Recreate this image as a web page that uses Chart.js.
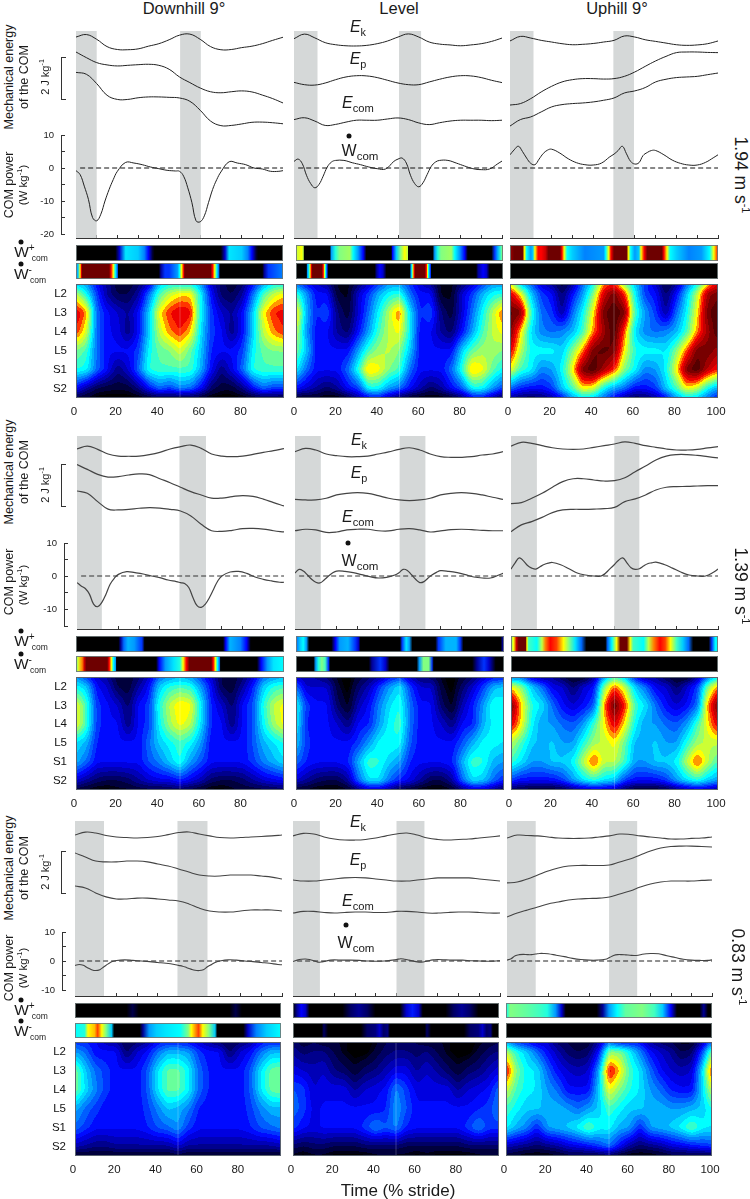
<!DOCTYPE html>
<html><head><meta charset="utf-8">
<script src="https://cdn.jsdelivr.net/npm/chart.js@4"></script>
<style>
html,body{margin:0;padding:0;background:#fff}
#page{position:relative;width:750px;height:1199px;overflow:hidden;font-family:"Liberation Sans",Arial,sans-serif;color:#1a1a1a}
#page canvas{position:absolute}
.t{position:absolute;white-space:nowrap;transform:translate(-50%,-50%);line-height:1}
.dot{position:absolute;width:5px;height:5px;border-radius:50%;background:#111;transform:translate(-50%,-50%)}
sup,sub{line-height:0}
</style></head><body><div id="page"></div>
<script>
// ---------- DATA ----------
const conditions=["Downhill 9°","Level","Uphill 9°"];
const speeds=["1.94 m s","1.39 m s","0.83 m s"];
const segments=["L2","L3","L4","L5","S1","S2"];
const energyX=[0,5,10,15,20,25,30,35,40,45,50,55,60,65,70,75,80,85,90,95,100];
const powerX=[0,2,4,6,8,10,12,14,16,18,20,24,28,32,36,40,44,48,50,52,54,56,58,60,62,64,66,68,70,74,78,82,86,90,94,98,100];
const heatCols=[0,5,10,15,20,25,30,35,40,45,50,55,60,65,70,75,80,85,90,95,100];
const heatRows=[0,.5,1.5,2.5,3.5,4.5,5.5,6];

// mechanical energy (J/kg, arbitrary offset)
const ek_d194=[4.71,4.83,4.6,4.25,4.11,4.1,4.14,4.27,4.39,4.58,4.8,4.85,4.6,4.25,4.1,4.11,4.2,4.27,4.39,4.55,4.7];
const ep_d194=[3.99,3.72,3.48,3.37,3.32,3.35,3.38,3.4,3.35,3.16,2.79,2.52,2.26,2.08,2.03,2.08,2.12,2.07,1.92,1.75,1.54];
const ec_d194=[3.01,2.92,2.47,1.91,1.71,1.71,1.79,1.83,1.83,1.81,1.78,1.62,1.19,.67,.45,.46,.53,.61,.62,.59,.54];
const ek_l194=[4.63,4.85,4.67,4.44,4.34,4.29,4.28,4.31,4.39,4.52,4.71,4.86,4.71,4.47,4.37,4.33,4.29,4.33,4.39,4.5,4.66];
const ep_l194=[2.53,2.42,2.4,2.5,2.66,2.79,2.85,2.84,2.76,2.63,2.5,2.42,2.42,2.55,2.68,2.79,2.85,2.84,2.76,2.63,2.52];
const ec_l194=[.74,.83,.67,.46,.51,.62,.71,.71,.71,.77,.82,.74,.58,.5,.59,.67,.71,.71,.71,.69,.71];
const ek_u194=[4.52,4.74,4.66,4.55,4.47,4.39,4.34,4.36,4.4,4.47,4.55,4.76,4.71,4.58,4.5,4.42,4.34,4.31,4.33,4.39,4.52];
const ep_u194=[1.44,1.51,1.75,2.07,2.34,2.55,2.66,2.71,2.71,2.69,2.71,2.82,3.03,3.3,3.56,3.78,3.96,3.99,3.99,3.97,3.96];
const ec_u194=[.43,.74,.87,1.11,1.35,1.46,1.51,1.54,1.59,1.67,1.78,2.02,2.12,2.28,2.55,2.68,2.76,2.79,2.82,2.9,2.98];
const ek_d139=[4.52,4.66,4.5,4.28,4.18,4.17,4.18,4.25,4.36,4.52,4.63,4.71,4.55,4.28,4.18,4.15,4.18,4.26,4.36,4.44,4.54];
const ep_d139=[3.77,3.54,3.3,3.17,3.19,3.27,3.32,3.29,3.09,2.9,2.68,2.47,2.31,2.16,2.16,2.23,2.28,2.24,2.11,1.94,1.78];
const ec_d139=[2.5,2.39,1.99,1.63,1.59,1.62,1.67,1.7,1.68,1.62,1.54,1.3,.9,.59,.56,.61,.69,.7,.67,.59,.53];
const ek_l139=[4.39,4.55,4.47,4.28,4.2,4.15,4.15,4.18,4.28,4.38,4.5,4.58,4.47,4.28,4.15,4.12,4.12,4.15,4.23,4.28,4.39];
const ep_l139=[2.1,2.07,2.07,2.15,2.31,2.39,2.42,2.39,2.28,2.15,2.07,2.04,2.07,2.15,2.31,2.39,2.42,2.39,2.31,2.2,2.1];
const ec_l139=[.59,.66,.63,.51,.53,.63,.66,.66,.59,.58,.66,.69,.63,.53,.58,.64,.66,.64,.61,.59,.59];
const ek_u139=[4.66,4.84,4.79,4.68,4.58,4.52,4.5,4.52,4.6,4.68,4.76,4.86,4.79,4.68,4.6,4.52,4.47,4.47,4.5,4.57,4.63];
const ep_u139=[1.89,1.94,2.15,2.39,2.68,2.95,3.09,3.09,3.03,2.98,3,3.14,3.43,3.7,3.99,4.18,4.25,4.25,4.21,4.15,4.09];
const ec_u139=[.54,.87,1.03,1.23,1.46,1.59,1.62,1.62,1.63,1.65,1.71,1.99,2.12,2.31,2.55,2.68,2.71,2.72,2.74,2.76,2.76];
const ek_d083=[4.66,4.8,4.76,4.64,4.57,4.54,4.52,4.54,4.59,4.68,4.78,4.81,4.71,4.62,4.54,4.52,4.54,4.57,4.59,4.62,4.66];
const ep_d083=[3.8,3.61,3.41,3.37,3.37,3.41,3.41,3.37,3.27,3.17,3.03,2.88,2.74,2.69,2.69,2.74,2.74,2.74,2.69,2.64,2.55];
const ec_d083=[2.21,2.12,1.88,1.69,1.59,1.59,1.63,1.63,1.59,1.54,1.49,1.35,1.15,1.01,.96,.96,1.01,1.06,1.06,1.06,1.01];
const ek_l083=[4.62,4.74,4.71,4.57,4.47,4.42,4.42,4.45,4.52,4.62,4.71,4.76,4.66,4.52,4.45,4.42,4.45,4.47,4.52,4.57,4.62];
const ep_l083=[2.5,2.45,2.45,2.5,2.55,2.6,2.62,2.6,2.55,2.5,2.45,2.45,2.5,2.55,2.6,2.6,2.6,2.6,2.55,2.5,2.45];
const ec_l083=[.91,.99,.99,.94,.91,.94,.96,.96,.94,.94,.99,.99,.96,.91,.91,.94,.96,.96,.94,.91,.91];
const ek_u083=[4.52,4.66,4.64,4.62,4.57,4.52,4.5,4.5,4.52,4.57,4.62,4.71,4.69,4.62,4.57,4.52,4.47,4.47,4.5,4.52,4.57];
const ep_u083=[2.36,2.4,2.55,2.74,2.93,3.08,3.17,3.2,3.2,3.2,3.22,3.37,3.51,3.7,3.89,4.04,4.11,4.13,4.13,4.11,4.09];
const ec_u083=[.72,.91,1.06,1.2,1.35,1.44,1.54,1.59,1.61,1.63,1.68,1.83,1.97,2.16,2.31,2.4,2.45,2.45,2.45,2.48,2.5];

// COM power (W/kg)
const pw_d194=[-.8,-2,-5.5,-9.5,-15,-16,-14,-10,-6.5,-3.5,-1,1.7,1.5,1,.3,-.2,-.7,-.9,-1,-2.5,-6,-10.5,-16,-16.3,-14.5,-10.5,-6.5,-3.5,-1.2,1.9,1.5,1,0,-.3,-1,-1,-.8];
const pw_l194=[2,2.7,1.3,-2.2,-4.7,-6,-5,-2.5,.3,1.8,2.3,2.3,1.6,1,.3,-.2,-.3,2,2.7,3,1.5,-2.2,-4.7,-5.7,-4.5,-2,.5,1.8,2.3,2.3,1.5,.6,-.2,-.5,-.3,1.3,2.1];
const pw_u194=[4,5.5,6.6,5,3,1.4,1,2.7,4.4,5.4,5.7,4.5,2.8,1.6,1,.9,1.5,3.4,4.2,5.3,6.6,4.3,2,1.2,1.6,3.8,4.7,5.3,5.3,4,2.4,1.4,.9,.9,1.7,3.2,4];
const pw_d139=[-2,-3,-3.8,-5.5,-8.5,-9.3,-8,-5.5,-2.5,-.7,.5,1.3,1,.6,0,-.5,-1.2,-1.7,-2,-2.3,-3.5,-6.5,-9,-9.5,-8.5,-6.5,-4,-1.5,0,1.2,1.4,.8,-.3,-1,-1.5,-1.9,-1.9];
const pw_l139=[.9,2,1.5,.3,-1,-1.9,-2.1,-1.2,-.1,.9,1.5,1.4,1,.4,-.2,-.6,-.4,.3,1,2,1.7,.4,-1,-2,-1.7,-.6,.4,1.1,1.6,1.4,1,.4,-.3,-.6,-.6,.3,.8];
const pw_u139=[2.1,4,5.5,4.6,3.2,2.4,2.1,2.8,3.5,3.9,4.1,3.4,2.2,.9,.3,0,.1,2.3,3.5,4.8,5.5,4,2.5,2,2.2,3,3.7,4,4.2,3.5,2.4,1.2,.3,0,0,1.2,2.1];
const pw_d083=[-1.5,-1.2,-1.5,-2.3,-3,-3.3,-3,-2,-1,-.2,.2,.4,.2,0,-.2,-.5,-.8,-1.2,-1.5,-1.8,-2.3,-2.8,-3.2,-3.3,-3,-2,-1.2,-.4,0,.4,.3,0,-.2,-.5,-.8,-1.2,-1.3];
const pw_l083=[-.2,.3,.6,.7,.5,.1,-.4,-.3,0,.3,.4,.3,.3,.2,0,-.1,0,.3,.5,.8,.6,.3,0,-.3,-.4,-.2,.2,.4,.5,.4,.3,.3,.1,0,-.1,0,.1];
const pw_u083=[.3,.8,1.8,2.2,2.3,2.2,2.2,2.4,2.6,2.6,2.5,2,1.5,.9,.5,.3,.3,.6,1.2,1.9,2.2,2.2,2.1,2,1.9,2,2.3,2.5,2.6,2.5,1.8,1.2,.6,.3,.2,.2,.4];

// stance (% stride) shaded bands
const stance_d194=[[0,10],[50.3,60.3]], stance_l194=[[0,11.3],[50.5,61.1]], stance_u194=[[0,11.3],[49.7,59.6]];
const stance_d139=[[0,12],[49.5,62.3]], stance_l139=[[0,12.4],[50.3,62.7]], stance_u139=[[0,12.5],[49.9,62]];
const stance_d083=[[0,14],[49.5,64]], stance_l083=[[0,13],[50,63.5]], stance_u083=[[0,14],[49.8,63.5]];

// positive / negative power strips: [% stride, level 0-20]
const wp_d194=[[0,0],[19,0],[21,4],[24,9.5],[30,9],[33,7.5],[35,5],[37,1],[38,0],[70,0],[72,4],[74,9.5],[80,9],[83,7.5],[85,5],[87,1],[88,0],[100,0]];
const wn_d194=[[0,7.5],[1,9],[2,14],[2.5,16],[3,19],[16,19],[17,16],[18,14],[19,10],[20,7],[20.5,0],[40,0],[41,3],[43,6],[45,6],[49,8],[50,10],[51,14],[52,16],[52.5,19],[65,19],[66,16],[67,14],[68,10],[69,7],[69.5,0],[90,0],[91,3],[93,6],[100,7.5]];
const wp_l194=[[0,13],[2.7,14],[3.5,13],[4,0],[16.4,0],[17,8],[19,10.5],[21,12],[26,12.5],[27.6,10],[30,8],[32.5,5],[34,0],[46,0],[46.6,5],[48.5,9],[50.5,12],[52.5,14],[54,13],[54.3,0],[66,0],[67,8],[68.5,10.5],[70,12],[75,12.5],[76.7,10],[79,8],[81.5,5],[83,0],[94.4,0],[96,6],[97.5,8.5],[99,11],[100,13]];
const wn_l194=[[0,0],[5,0],[5.5,8],[6.3,10],[6.8,14],[7.3,16],[8,19],[12.4,19],[13.2,16],[13.7,14],[14.3,10],[15,6],[15.6,0],[38,0],[39,3],[40.5,5],[42,4],[43.7,0],[55,0],[55.5,8],[56,10],[56.5,14],[57,16],[57.7,19],[62.2,19],[63,16],[63.5,14],[64,10],[65,6],[65.4,0],[87,0],[88,3],[90.4,5],[92,4],[93.6,0],[100,0]];
const wp_u194=[[0,18],[2,19],[6,19],[7,14],[8,10],[10,8],[11,9],[12,14],[13.5,16],[15,16],[17,17],[18.5,19],[24,19],[25,16],[26,14],[27.5,10],[30,9],[36,7.5],[45,8],[46,10],[47.5,14],[48.5,16],[50,19],[56,19],[57,14],[58,10],[60,8],[62,9],[63,14],[64.5,16],[66,19],[73,19],[74,16],[75.5,14],[77,10],[80,9],[86,7.5],[92,8],[96,10],[98,14],[100,16]];
const wn_u194=[[0,0],[100,0]];
const wp_d139=[[0,0],[20.4,0],[21.5,3],[23,7],[25,8.5],[28,8],[31.7,6],[33,0],[70.7,0],[72,5],[74,8.5],[79,7.5],[82,5],[84,0],[100,0]];
const wn_d139=[[0,11],[1,13.5],[3,15],[4,17],[5,19],[15,19],[16,16],[17,14],[18,10],[19,8],[19.5,0],[38.5,0],[40,5],[43,8],[47,9.5],[50,10.5],[51.5,14],[53,16],[54.5,19],[65,19],[66,16],[67,14],[68,10],[69,7],[69.5,0],[87,0],[89,5],[92,8],[95,9.5],[100,10]];
const wp_l139=[[0,7],[2,9],[3.5,10],[5,8],[6.3,0],[17,0],[19,5],[21,8],[25,8.5],[28.5,6],[30,4],[31,0],[50,0],[51,6],[53,9.5],[54.5,8],[56,0],[67,0],[68.5,6],[72,8.5],[77,8.5],[79,6],[80.5,0],[98.4,0],[100,5]];
const wn_l139=[[0,0],[8.4,0],[9.5,8],[10.8,10.5],[12.4,12],[14,11],[15.6,6],[16.4,0],[35,0],[36.5,3],[40.5,6],[43,4],[45,0],[58,0],[59.3,8],[61.3,12],[63.8,12],[65.4,6],[66.2,0],[84.7,0],[87,3],[90.4,6],[92.8,4],[96,0],[100,0]];
const wp_u139=[[0,12],[1.3,14],[2.6,17],[3.7,19],[7,19],[7.7,14],[8.5,11],[12.5,10],[15,13],[16.6,15],[19,16],[22,15.5],[25.4,14],[28,12],[31,9.5],[34,7],[36.4,0],[45.6,0],[46.7,7],[48.8,10],[51,14],[52.8,19],[56,19],[57.6,14],[59,11],[64,10],[66.5,13],[69,15],[72,16],[74.5,15.5],[77,14],[80,11],[83,9],[85.8,7],[88,0],[95.5,0],[97,6],[98.7,10],[100,10]];
const wn_u139=[[0,0],[100,0]];
const wp_d083=[[0,0],[25,0],[28,1.5],[31,0],[75,0],[78,1.5],[81,0],[100,0]];
const wn_d083=[[0,10],[4.7,10.5],[6.3,14],[9.5,14.5],[11,15.5],[13,14],[15,12],[17.7,9],[19,0],[31.4,0],[33,3],[36,8],[39.5,9],[44,9.5],[51,10],[55,12],[56.5,14],[60,15.5],[62,14],[65,12],[68,9],[69,0],[81.7,0],[84,4],[88,7.5],[93,9],[100,10]];
const wp_l083=[[0,0],[2,3],[4,5],[6,4],[8,0],[24,0],[28,2],[32,3],[36,2],[40,0],[52,0],[55,4],[58,5.5],[61,4],[63,0],[74,0],[78,2],[82,3],[86,2],[90,0],[100,0]];
const wn_l083=[[0,0],[14,0],[15,2],[17,0],[33,0],[36,2],[40,2.5],[42,4],[44,2],[46,2.5],[47,0],[64,0],[65,2],[67,0],[83,0],[86,2],[90,2.5],[92,4],[94,2],[96,2.5],[97,0],[100,0]];
const wp_u083=[[0,10],[2,12],[10,11.5],[16,11],[20,10.5],[24,8],[27,4],[29,0],[44,0],[47,3],[50,8],[54,10],[58,11.5],[66,12],[72,11],[76,9],[80,5],[83,0],[94,0],[96,3],[98,0],[100,0]];
const wn_u083=[[0,0],[100,0]];

// muscle activation maps: rows top->bottom of heatRows, columns heatCols, level 0-20
const heat_d194=[
[9,8,5,3,1,1,2,4,9,10,10,10,8,4,2,1,2,5,8,10,10],
[13,10,6,3,1.5,1.5,3,7,11,13,14,14,10,5,2,1.5,3,7,11,13,14],
[17,15,7,5,4,3,5,9,14,16,17,16.5,10,6,4,3,5,9,14,16,16.5],
[16,13.5,7,5,4.5,2.5,5,9,13,15,16,14.5,9.5,6,5,2.5,5,9,13,15,16],
[12,11,7,5,5,5,6,10,11.5,12,13.5,11.5,9,5.5,5,5,6,10,11.5,12,12],
[10.5,10,7,5,2.5,4,7,10.5,11,11,11,11,8.5,5,2.5,4.5,7,10.5,11,11,11],
[5,3,1.5,1,1,1,2.5,5,7,6,7.5,7,5,2,1,1,2.5,5,7,6,6],
[1,.5,0,0,0,0,0,.5,1,1,1,1,.5,0,0,0,0,.5,1,1,1]];
const heat_l194=[
[7,5,4,3,.5,.5,2,4,6,8,8,6,4,3,.5,.5,2,4,6,8,8],
[11,8,5,5,1,.5,4,6,8.5,10,10.5,7,5,5,.5,.5,4,6,8.5,10,10.5],
[15,8.5,5.5,6.5,2.5,1,4,7,10,13,15.5,9.5,5.5,6.5,2.5,1,4,7,10,13,15.5],
[13.5,8,5,5,3,2,5,8,11,13,14,10,5,5,3,2,5,8,11,13,14],
[12,9,5,5,5,5,8,11,12.5,13,12,9,5,5,5,5,9,11.5,12.5,12.5,12],
[10,7,5,5,5,7,10.5,15,14,12,11,7,5,5,5,7,10.5,15,14,11.5,10],
[5,4,3,2,3,5,6,10,10,8,7,5,3.5,2,3,5,6.5,10,10,8,6],
[.5,.5,.5,0,0,1,3,4.5,5,3,1.5,.5,0,0,0,.5,2,4.5,5,3,1]];
const heat_u194=[
[14,9,7,4,3,1,3,7,10,15,16,12,9,6,4,1,3,7,10,14,17],
[17,14,9,6,5,2,5,8,12,17,19,16,10,6,5,2,5,9,13,18,19],
[19.5,19,11,7,6,3,7,10,14,19,20,19,11,8,6,3,7,10,14,19,20],
[19,14.5,9.5,7.5,7,7.5,8.5,11,15,18,20,15.5,9.5,7.5,7,7.5,8.5,11,15,18,20],
[17,13,10,10,10,9,12,15,19,19.5,19,14,10.5,10,10,9.5,12,15.5,19,19,18],
[14,11,10,7.5,8,10,14,19,20,18,16,12,10,7.5,8,10,14,19,20,17.5,16],
[7,5.5,5,5,6,9,11,14,13.5,10,8,7,5,5,6,9,11,14,13,10,8],
[3,2,1.5,2,3,5,8,9.5,9,7,5,3,1.5,2,3,5,8,9.5,9,7,5]];
const heat_d139=[
[8,6,4,3,1,1,2,4,7,8,8.5,8,6,4,1.5,1,2,4,7,8,8.5],
[10,9,5,4,1.5,1,3,5,9,10.5,11,10.5,8,5,1.5,1,3,5.5,9,10.5,11],
[14,11,6,5,4,2,5,6,10.5,13,14.5,14,10,5.5,4,2,5,6.5,10.5,13,14],
[14,11,6,5,5,2.5,5,6,10,12.5,14,13,9.5,5.5,5,2.5,5,6.5,10,12.5,14],
[9.5,8.5,5.5,5,5,5,5,7,9,10,11,10,8,5,5,5,5,6.5,8.5,9.5,10.5],
[8.5,7,5,5,5,5,5,6.5,7.5,9,10.5,8,6.5,5,5,5,5,6,7.5,8.5,9.5],
[4,3,2,1.5,1.5,2,3,4,4.5,4.5,5.5,4.5,3.5,2,1.5,1.5,2,3,4,4.5,5],
[1,.5,0,0,.5,.5,1,1,1,1.5,1.5,1,.5,0,0,.5,1,1,1,1.5,1.5]];
const heat_l139=[
[4,3,3,2,.5,0,1,2,3,5,6,3.5,2,2,.5,0,1,2,4,5,5],
[7,4,4,4,1,0,2,3.5,6,8,9.5,6,4,4,1,0,2,4,6,8.5,9],
[10.5,6,5,5,2,.5,3.5,5,7.5,9.5,10.5,7,5,5,2,.5,3.5,5.5,8,10.5,10],
[10,5.5,5,5,4,2.5,5,5.5,8,10,11,7,5,5,4,2.5,5,5.5,8.5,10,10.5],
[9,6,5,5,5,5,6,8,10,10.5,10,6.5,5,5,5,5,6.5,8.5,10,10,9.5],
[7,5.5,5,5,5,5.5,8.5,11,10.5,9,8,5.5,5,5,5,5.5,8.5,11,10.5,8.5,8],
[4,3,2,1.5,1.5,3,7,9.5,9.5,7,5.5,4.5,3,1.5,1.5,3,7,9.5,9,7,5.5],
[.5,.5,0,0,0,.5,2,3.5,3.5,2.5,1,.5,0,0,0,.5,2,3.5,3.5,2.5,1]];
const heat_u139=[
[7,7,4,3,3,1.5,.5,.5,3,8,11,9,5,3,3,1.5,.5,.5,3,7,10],
[14,12,9,7,4.5,4,2,4,5,12,15.5,13,9,7,4.5,4,2,4,6,12,15],
[19,14.5,10.5,9.5,7,5,4,5,6.5,15,19.5,16,11,9.5,7,5,4,5,7,15,19],
[17,14,10,8,8,7,6.5,8,11,14,17,14,10,8,8,7,6.5,8,11,14,17],
[13,11,9,8.5,9,8,8,10.5,12.5,13,14,11.5,8.5,8.5,9,8,8,10.5,12.5,13,13],
[11,9.5,8,8,9,9,10,13,16,13,13,11,8,8,9,9,10,13,16,13,11],
[6,5,5,5,5,6,8,9.5,10.5,9.5,9,6,5,5,5,6,8,9.5,10.5,9,8],
[1.5,1,.5,.5,.5,1,2,3,3.5,3.5,3,1.5,.5,.5,.5,1,2,3,3.5,3.5,2.5]];
const heat_d083=[
[6,5.5,5,3.5,3,1.5,2,3,5,5.5,5.5,5,4,3,2,1.5,2,3,5,5.5,5.5],
[8,7,5,5,5,2,4,5,7,8.5,8.5,8,6,5,5,2,4,5,7,8.5,8.5],
[12,9,7,6,5,5,5,6.5,9.5,11.5,11.5,10,7,5.5,5,5,5,6.5,9.5,11.5,12],
[12,9.5,7.5,6,5,5,5,6.5,9.5,11.5,11.5,10,7,5.5,5,5,5,6.5,9.5,11.5,12],
[8.5,7,6,5,5,5,5,6,7.5,9,8.5,7.5,5.5,5,5,5,5,6,7.5,8.5,8.5],
[7,6,5,5,5,5,5,5.5,6.5,7,8,6,5,5,5,5,5,5.5,6.5,7,7.5],
[3.5,3,2.5,2.5,3,3,3,3,3,3,4,3,3,3,3,3,3,3,3,3,3.5],
[.5,.5,.5,.5,.5,.5,.5,.5,.5,.5,1,.5,.5,.5,.5,.5,.5,.5,.5,.5,.5]];
const heat_l083=[
[2,1,1.5,1,1,.5,0,0,.5,1.5,2,1.5,1.5,1,1,.5,0,0,.5,1,1.5],
[3,2,2.5,2.5,1.5,.5,0,0,1,2,2.5,2.5,2,2.5,1.5,.5,0,0,1,2,2.5],
[4.5,4,3.5,4,2.5,2,1,2,2.5,3.5,4.5,4.5,3,4,3,2,1,2,2.5,3.5,4.5],
[6.5,6,4,4.5,4.5,4.5,3,4,4.5,5,7.5,6,4.5,4.5,4.5,4.5,3,4,4.5,5,7],
[7,6,4.5,5,5,5,5,5,5,5.5,8,6.5,5,5,5,5,5,5,5.5,6,7.5],
[6,5,4.5,5,5,5,5,6,7.5,6.5,7.5,5.5,5,5,5,5,5,6,7.5,6,6],
[2,1.5,2,2,1.5,1.5,1.5,2,2,2,2,1.5,1.5,1.5,1.5,1.5,1.5,2,2,2,2],
[.5,0,.5,.5,0,0,0,0,.5,.5,.5,.5,0,.5,0,0,0,0,.5,.5,.5]];
const heat_u083=[
[8,6,5,4,4,2,1.5,1,1,3,7,5,5,5,3,2,1.5,.5,.5,3,7],
[13,10.5,9,7,5,3.5,2,1.5,2,5,12,12,10,7.5,5,4,3,1.5,2,6,12],
[17,12,10,9.5,7,5,4,3.5,4,8,17,14.5,11,9.5,7,5,4,3.5,4,9,16.5],
[13.5,11,10,9.5,8,7,5,5,5,9,14,12,10.5,9.5,8,7,5.5,5,5,9,13.5],
[11,10,9,9,8.5,8.5,8,7,8,9,11,10,9,9,8.5,8.5,8,8,8.5,9,10.5],
[10,8.5,7.5,5.5,8,8.5,9,10,11.5,10,10,8.5,8,5.5,8,8.5,9,10,11.5,10,9.5],
[3.5,3,2.5,2,2.5,3,4,4.5,5,6,7,5,3,2,2.5,3,4,4.5,5,5.5,6],
[1,.5,0,0,0,.5,1,1,1,1,1.5,.5,0,0,0,.5,1,1,1,1,1]];

// ---------- LAYOUT ----------
const energyTables=[[[ek_d194,ep_d194,ec_d194],[ek_l194,ep_l194,ec_l194],[ek_u194,ep_u194,ec_u194]],
 [[ek_d139,ep_d139,ec_d139],[ek_l139,ep_l139,ec_l139],[ek_u139,ep_u139,ec_u139]],
 [[ek_d083,ep_d083,ec_d083],[ek_l083,ep_l083,ec_l083],[ek_u083,ep_u083,ec_u083]]];
const powerTables=[[pw_d194,pw_l194,pw_u194],[pw_d139,pw_l139,pw_u139],[pw_d083,pw_l083,pw_u083]];
const stanceTables=[[stance_d194,stance_l194,stance_u194],[stance_d139,stance_l139,stance_u139],[stance_d083,stance_l083,stance_u083]];
const plusTables=[[wp_d194,wp_l194,wp_u194],[wp_d139,wp_l139,wp_u139],[wp_d083,wp_l083,wp_u083]];
const minusTables=[[wn_d194,wn_l194,wn_u194],[wn_d139,wn_l139,wn_u139],[wn_d083,wn_l083,wn_u083]];
const heatTables=[[heat_d194,heat_l194,heat_u194],[heat_d139,heat_l139,heat_u139],[heat_d083,heat_l083,heat_u083]];
const geom=[
 {eTop:31,pTop:135,pBot:238,pxPerW:3.3,axisX:61,axisBot:234,axisMin:-20,barTop:57,barBot:99,
  line:[[76,283],[294,502],[510,718]],strip:[[76,283],[296,503],[510,718]],heat:[[76,284],[296,503],[510,718]],
  s1:[245,261],s2:[263,279],h:[284,398],color:'#222',lw:1,dashCol:'#111',
  lab:{me:77,j:77,cp:185,cpw:185,ek:[358,27],ep:[358,59],ec:[358,103],w:[360,151],dot:[349,136],wp:252,wn:274,sp:[740,175]}},
 {eTop:436,pTop:543,pBot:629,pxPerW:3.3,axisX:64,axisBot:626,axisMin:-15,barTop:464,barBot:506,
  line:[[77,284],[295,503],[511,718]],strip:[[76,284],[296,504],[511,718]],heat:[[76,284],[296,504],[511,718]],
  s1:[636,652],s2:[656,672],h:[677,790],color:'#444',lw:1.2,dashCol:'#333',
  lab:{me:472,j:485,cp:582,cpw:585,ek:[359,440],ep:[359,473],ec:[358,517],w:[360,561],dot:[348,543],wp:641,wn:664,sp:[740,586]}},
 {eTop:821,pTop:932,pBot:996,pxPerW:2.9,axisX:62,axisBot:990,axisMin:-10,barTop:851,barBot:893,
  line:[[75,282],[293,500],[507,712]],strip:[[75,281],[293,499],[506,712]],heat:[[75,281],[293,499],[506,712]],
  s1:[1003,1018],s2:[1023,1038],h:[1042,1156],color:'#444',lw:1.1,dashCol:'#222',
  lab:{me:868,j:872,cp:968,cpw:968,ek:[358,822],ep:[358,860],ec:[358,901],w:[356,943],dot:[346,925],wp:1010,wn:1031,sp:[737,967]}}
];
const J_PX=20.8;

// ---------- COLOUR ----------
const cmap=[[0,0,0,0],[2,0,0,100],[5,0,0,255],[7.5,0,130,255],[10,0,255,255],[12,130,255,130],[14,255,255,0],[16,255,0,0],[19,110,0,0],[20,70,0,0]];
function rgb(v){
  v=Math.max(0,Math.min(20,v));
  for(let i=1;i<cmap.length;i++){ if(v<=cmap[i][0]){const a=cmap[i-1],b=cmap[i],t=(v-a[0])/(b[0]-a[0]);
    return [a[1]+(b[1]-a[1])*t,a[2]+(b[2]-a[2])*t,a[3]+(b[3]-a[3])*t];}}
  return cmap[cmap.length-1].slice(1);
}
// ---------- PLUGINS ----------
const shadePlugin={id:'shade',beforeDatasetsDraw(ch,a,o){
  if(!o.ranges)return; const {ctx,chartArea:ca,scales:{x}}=ch; ctx.save(); ctx.fillStyle='#d5d8d8';
  o.ranges.forEach(r=>{const l=x.getPixelForValue(r[0]),rr=x.getPixelForValue(r[1]);ctx.fillRect(l,ca.top,rr-l,ca.bottom-ca.top);}); ctx.restore();}};
const stripPlugin={id:'strip',beforeDatasetsDraw(ch,a,o){
  if(!o.on)return; const {ctx,chartArea:ca,scales:{x}}=ch; const pts=ch.data.datasets[0].data;
  const x0=x.getPixelForValue(0),x1=x.getPixelForValue(100); const g=ctx.createLinearGradient(x0,0,x1,0);
  pts.forEach(p=>{const c=rgb(p.y);g.addColorStop((x.getPixelForValue(p.x)-x0)/(x1-x0),`rgb(${c[0]|0},${c[1]|0},${c[2]|0})`);});
  ctx.save();ctx.fillStyle=g;ctx.fillRect(ca.left,ca.top,ca.right-ca.left,ca.bottom-ca.top);
  ctx.strokeStyle='rgba(110,120,120,.9)';ctx.lineWidth=1;ctx.strokeRect(ca.left+.5,ca.top+.5,ca.right-ca.left-1,ca.bottom-ca.top-1);ctx.restore();}};
function smooth(f,W,H,rx,ry){
  const pass=(src,n,m,step,cross,r)=>{const out=new Float32Array(src.length);
    for(let j=0;j<m;j++)for(let i=0;i<n;i++){let s=0,c=0;for(let d=-r;d<=r;d++){const k=Math.max(0,Math.min(n-1,i+d));s+=src[j*cross+k*step];c++;}out[j*cross+i*step]=s/c;}return out;};
  for(let t=0;t<2;t++){f=pass(f,W,H,1,W,rx);f=pass(f,H,W,W,1,ry);}
  return f;
}
const heatPlugin={id:'heat',beforeDatasetsDraw(ch,a,o){
  if(!o.grid)return; const {ctx,chartArea:ca,scales:{x,y}}=ch; const W=Math.round(ca.right-ca.left),H=Math.round(ca.bottom-ca.top);
  const off=document.createElement('canvas');off.width=W;off.height=H;const oc=off.getContext('2d');const im=oc.createImageData(W,H);
  const G=o.grid; let f=new Float32Array(W*H);
  const seg=(arr,v)=>{let i=0;while(i<arr.length-2&&v>arr[i+1])i++;return [i,Math.max(0,Math.min(1,(v-arr[i])/(arr[i+1]-arr[i])))];};
  for(let py=0;py<H;py++){const [r,tr]=seg(heatRows,y.getValueForPixel(ca.top+py+.5));
    for(let px=0;px<W;px++){const [c,tc]=seg(heatCols,x.getValueForPixel(ca.left+px+.5));
      f[py*W+px]=(G[r][c]*(1-tc)+G[r][c+1]*tc)*(1-tr)+(G[r+1][c]*(1-tc)+G[r+1][c+1]*tc)*tr;}}
  f=smooth(f,W,H,2,2);
  for(let k=0;k<W*H;k++){const v=f[k];const q=(Math.floor(v/.8)+.5)*.8;const col=rgb(v<.4?0:q);
    im.data[k*4]=col[0];im.data[k*4+1]=col[1];im.data[k*4+2]=col[2];im.data[k*4+3]=255;}
  oc.putImageData(im,0,0);
  ctx.save();ctx.fillStyle='#000';ctx.fillRect(ca.left,ca.top,W,H);
  ctx.beginPath();ctx.rect(ca.left,ca.top,W,H);ctx.clip();ctx.filter='blur(0.6px)';ctx.drawImage(off,ca.left,ca.top);ctx.filter='none';
  const m=x.getPixelForValue(50);ctx.strokeStyle='rgba(255,255,255,.22)';ctx.lineWidth=1;ctx.beginPath();ctx.moveTo(m,ca.top);ctx.lineTo(m,ca.bottom);ctx.stroke();
  ctx.restore();
  ctx.save();ctx.strokeStyle='#5a6270';ctx.lineWidth=1;ctx.strokeRect(ca.left+.5,ca.top+.5,W-1,H-1);ctx.restore();}};
Chart.register(shadePlugin,stripPlugin,heatPlugin);
Chart.defaults.font.family='"Liberation Sans",Arial,sans-serif';
Chart.defaults.color='#1a1a1a';
Chart.defaults.animation=false;

// ---------- HELPERS ----------
const page=document.getElementById('page');
function mount(left,top,w,h,cfg){
  const c=document.createElement('canvas');c.style.left=left+'px';c.style.top=top+'px';c.style.width=w+'px';c.style.height=h+'px';c.width=w;c.height=h;page.appendChild(c);
  cfg.options=Object.assign({responsive:false,maintainAspectRatio:false,animation:false,events:[]},cfg.options);
  return new Chart(c,cfg);
}
function text(x,y,html,size,rot,extra){
  const d=document.createElement('div');d.className='t';d.innerHTML=html;d.style.left=x+'px';d.style.top=y+'px';d.style.fontSize=size+'px';
  if(rot)d.style.transform=`translate(-50%,-50%) rotate(${rot}deg)`; if(extra)d.style.cssText+=extra; page.appendChild(d);return d;}
function dot(x,y){const d=document.createElement('div');d.className='dot';d.style.left=x+'px';d.style.top=y+'px';page.appendChild(d);}
const fixW=w=>s=>{s.width=w;s.paddingTop=s.paddingBottom=s.paddingLeft=s.paddingRight=0;};
const fixH=h=>s=>{s.height=h;s.paddingTop=s.paddingBottom=s.paddingLeft=s.paddingRight=0;};
const noPlugins={legend:{display:false},tooltip:{enabled:false}};

function curve(xs,ys,color,lw){return {data:xs.map((x,i)=>({x,y:ys[i]})),borderColor:color,borderWidth:lw,pointRadius:0,tension:.4,fill:false};}

function energyChart(g,r,c){
  const [x0,x1]=g.line[c]; const h=g.pTop-g.eTop;
  mount(x0,g.eTop,x1-x0+1,h,{type:'line',data:{datasets:energyTables[r][c].map(a=>curve(energyX,a,g.color,g.lw))},
   options:{layout:{padding:{right:1}},plugins:{...noPlugins,shade:{ranges:stanceTables[r][c]}},
    scales:{x:{type:'linear',min:0,max:100,display:false},y:{min:0,max:h/J_PX,display:false}}}});
}
function powerChart(g,r,c){
  const [x0,x1]=g.line[c]; const h=g.pBot-g.pTop;
  const dashed=Object.assign(curve([2,100],[0,0],g.dashCol,1),{borderDash:[5,3],tension:0});
  mount(x0,g.pTop,x1-x0+1,h+2,{type:'line',data:{datasets:[curve(powerX,powerTables[r][c],g.color,g.lw),dashed]},
   options:{layout:{padding:{right:1,bottom:2}},plugins:{...noPlugins,shade:{ranges:stanceTables[r][c]}},
    scales:{x:{type:'linear',min:0,max:100,afterFit:fixH(0),ticks:{display:false,stepSize:10},border:{color:'#333'},grid:{drawOnChartArea:false,tickLength:-3,color:'#333'}},
     y:{min:10-h/g.pxPerW,max:10,display:false}}}});
}
function axisChart(x,top,bot,min,max,step,labelled,tl){
  mount(x-34,top-8,34+8,bot-top+16,{type:'scatter',data:{datasets:[]},options:{layout:{padding:{right:7,top:8,bottom:8}},plugins:noPlugins,
   scales:{x:{type:'linear',min:0,max:1,display:false},
    y:{min,max,afterFit:fixW(34),border:{color:'#333'},grid:{drawOnChartArea:false,tickLength:-tl,color:'#333'},
     ticks:{stepSize:step,padding:11+tl-4,font:{size:9.5},display:labelled,callback:v=>v%10===0?String(v):''}}}}});
}
function stripChart(box,yy,pts){
  const [x0,x1]=box;
  mount(x0,yy[0],x1-x0,yy[1]-yy[0],{type:'scatter',data:{datasets:[{data:pts.map(p=>({x:p[0],y:p[1]})),showLine:false,pointRadius:0}]},
   options:{plugins:{...noPlugins,strip:{on:true}},scales:{x:{type:'linear',min:0,max:100,display:false},y:{min:0,max:20,display:false}}}});
}
function heatChart(g,c,grid){
  const [x0,x1]=g.heat[c]; const pad=40;const h=g.h[1]-g.h[0];
  const pts=[];heatRows.forEach((ry,i)=>heatCols.forEach((cx,j)=>pts.push({x:cx,y:ry,v:grid[i][j]})));
  const tickX={color:ctx=>(ctx.tick&&(ctx.tick.value===0||ctx.tick.value===100))?'rgba(0,0,0,0)':'#223',tickLength:-3,drawOnChartArea:false};
  const tickY={color:ctx=>(ctx.tick&&(ctx.tick.value===0||ctx.tick.value===6))?'rgba(0,0,0,0)':'#223',tickLength:-3,drawOnChartArea:false};
  mount(x0-pad,g.h[0]-3,x1-x0+pad+18,h+3+24,{type:'scatter',data:{datasets:[{data:pts,showLine:false,pointRadius:0}]},
   options:{layout:{padding:{right:18,top:3}},plugins:{...noPlugins,heat:{grid}},
    scales:{
     x:{type:'linear',min:0,max:100,afterFit:fixH(24),border:{display:false},grid:tickX,
        ticks:{stepSize:20,padding:10,labelOffset:-2,maxRotation:0,font:{size:11.5},callback:v=>(v===100&&c<2)?'':String(v)}},
     x2:{type:'linear',axis:'x',position:'top',min:0,max:100,afterFit:fixH(0),border:{display:false},grid:tickX,ticks:{stepSize:20,display:false}},
     y:{min:0,max:6,reverse:true,afterFit:fixW(pad),border:{display:false},grid:tickY,
        ticks:{stepSize:1,padding:12,display:c===0,labelOffset:9.5,font:{size:11.5},color:'#111',callback:v=>segments[v]||''}},
     y2:{type:'linear',axis:'y',position:'right',min:0,max:6,reverse:true,afterFit:fixW(0),border:{display:false},grid:tickY,ticks:{stepSize:1,display:false}}
    }}});
}

// ---------- BUILD ----------
const colCentres=[184,399,617];
conditions.forEach((t,c)=>text(colCentres[c],8,t,16.5));
geom.forEach((g,r)=>{
  for(let c=0;c<3;c++){
    energyChart(g,r,c);powerChart(g,r,c);
    stripChart(g.strip[c],g.s1,plusTables[r][c]);
    stripChart(g.strip[c],g.s2,minusTables[r][c]);
    heatChart(g,c,heatTables[r][c]);
  }
  axisChart(g.axisX,g.pTop,g.axisBot,g.axisMin,10,5,true,4);
  axisChart(61,g.barTop,g.barBot,0,2,2,false,5);
  const L=g.lab;
  text(9,L.me,'Mechanical energy',12.5,-90);
  text(24,L.me,'of the COM',12.5,-90);
  text(45,L.j,'2 J kg<sup style="font-size:.65em">-1</sup>',11,-90);
  text(9,L.cp,'COM power',12.5,-90);
  text(24,L.cpw,'(W kg<sup style="font-size:.65em">-1</sup>)',11.5,-90);
  text(L.ek[0],L.ek[1],'<i>E</i><sub style="font-size:.68em">k</sub>',16);
  text(L.ep[0],L.ep[1],'<i>E</i><sub style="font-size:.68em">p</sub>',16);
  text(L.ec[0],L.ec[1],'<i>E</i><sub style="font-size:.7em">com</sub>',16);
  text(L.w[0],L.w[1],'W<sub style="font-size:.72em">com</sub>',16);dot(L.dot[0],L.dot[1]);
  text(31,L.wp,'W<sup style="font-size:.65em">+</sup><sub style="font-size:.55em;margin-left:-3px">com</sub>',15.5);dot(21,L.wp-10);
  text(30,L.wn,'W<sup style="font-size:.65em">-</sup><sub style="font-size:.55em;margin-left:-2px">com</sub>',15.5);dot(21,L.wn-10);
  text(L.sp[0],L.sp[1],speeds[r]+'<sup style="font-size:.62em">-1</sup>',17.5,90);
});
text(398,1190,'Time (% stride)',17);
</script></body></html>
